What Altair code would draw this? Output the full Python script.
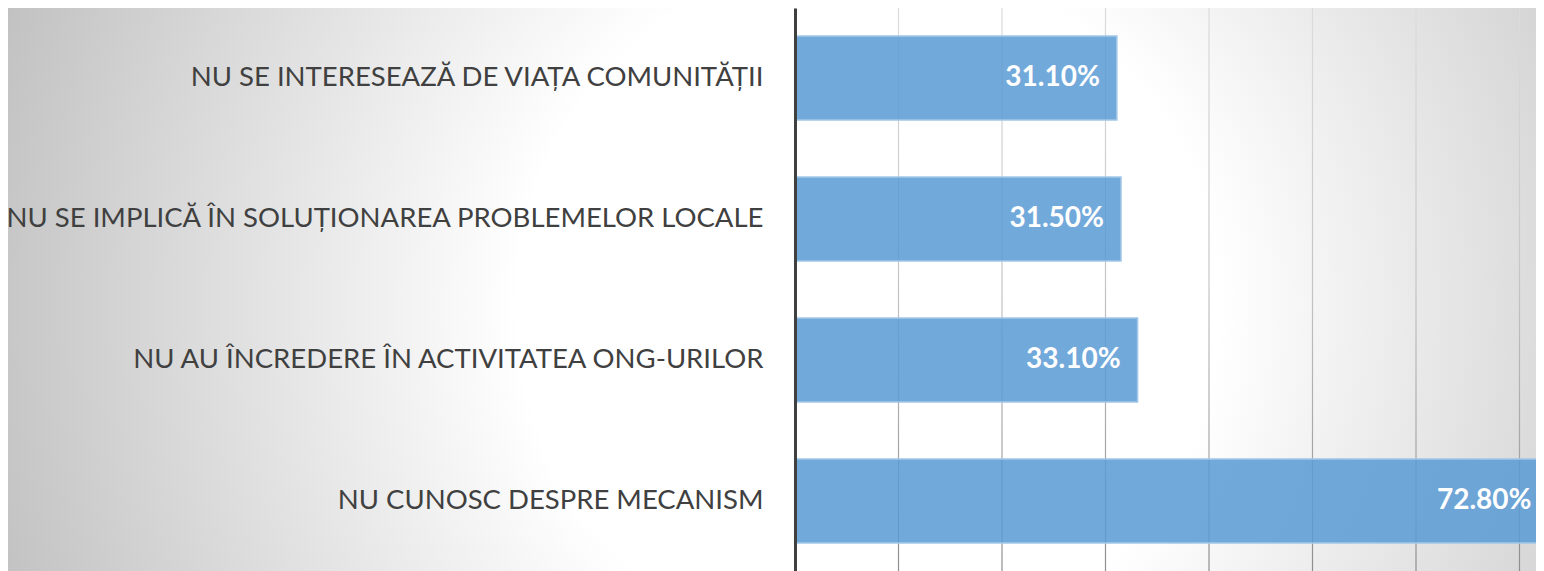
import altair as alt
import pandas as pd

categories = [
    "NU SE INTERESEAZĂ DE VIAȚA COMUNITĂȚII",
    "NU SE IMPLICĂ ÎN SOLUȚIONAREA PROBLEMELOR LOCALE",
    "NU AU ÎNCREDERE ÎN ACTIVITATEA ONG-URILOR",
    "NU CUNOSC DESPRE MECANISM",
]
values = [31.1, 31.5, 33.1, 72.8]
grid_values = [0, 10, 20, 30, 40, 50, 60, 70]

LEFT = 787
W, H = 741, 563
FULL_H = 563

df = pd.DataFrame({"cat": categories, "value": values})
grid_df = pd.DataFrame({"g": grid_values})
bg_df = pd.DataFrame({"k": [0]})

xscale = alt.Scale(domain=[0, 80], range=[0, 828], nice=False)

bg = alt.Chart(bg_df).mark_rect(
    fill=alt.RadialGradient(
        gradient="radial",
        stops=[
            alt.GradientStop(color="#ffffff", offset=0),
            alt.GradientStop(color="#ffffff", offset=0.35),
            alt.GradientStop(color="#b8b8b8", offset=1),
        ],
        x1=0.56, y1=0.512, r1=0, x2=0.56, y2=0.512, r2=0.651,
    ),
    strokeWidth=0,
).encode(
    x=alt.value(-LEFT), x2=alt.value(W + 8), y=alt.value(0), y2=alt.value(FULL_H)
)

grid = alt.Chart(grid_df).mark_tick(
    orient="vertical",
    size=FULL_H,
    thickness=1.2,
    opacity=1,
    color=alt.LinearGradient(
        gradient="linear",
        stops=[
            alt.GradientStop(color="#dcdcdc", offset=0),
            alt.GradientStop(color="#c4c4c4", offset=0.5),
            alt.GradientStop(color="#8e8e8e", offset=1),
        ],
        x1=0, x2=0, y1=0, y2=1,
    ),
).encode(x=alt.X("g:Q", scale=xscale, axis=None), y=alt.value(FULL_H / 2))

ysc = alt.Scale(paddingInner=0.404, paddingOuter=0.199, range=[0, FULL_H])

bars = alt.Chart(df).mark_bar(
    fill="#5b9bd5", fillOpacity=0.86, stroke="#a3c7e8", strokeWidth=1.5
).encode(
    x=alt.X("value:Q", scale=xscale, axis=None),
    y=alt.Y(
        "cat:N",
        sort=categories,
        scale=ysc,
        axis=alt.Axis(
            title=None,
            ticks=False,
            tickSize=0,
            labelPadding=32,
            labelLimit=0,
            labelFont="Lato",
            labelFontSize=27.5,
            labelColor="#404040",
            domainColor="#404040",
            domainWidth=3,
            zindex=1,
        ),
    ),
)

texts = alt.Chart(df).transform_calculate(
    label="format(datum.value, '.2f') + '%'"
).mark_text(
    align="right", baseline="middle", dx=-17, font="Lato", fontWeight="bold",
    fontSize=28, color="white"
).encode(
    x=alt.X("value:Q", scale=xscale, axis=None),
    y=alt.Y("cat:N", sort=categories, scale=ysc),
    text="label:N",
)

chart = alt.layer(bg, grid, bars, texts).properties(
    width=W, height=H,
    autosize=alt.AutoSizeParams(type="none"),
    padding={"left": LEFT, "top": 0, "right": 0, "bottom": 0},
).configure_view(stroke=None)

chart.save("out.html", embed_options={"renderer": "svg", "actions": False})
